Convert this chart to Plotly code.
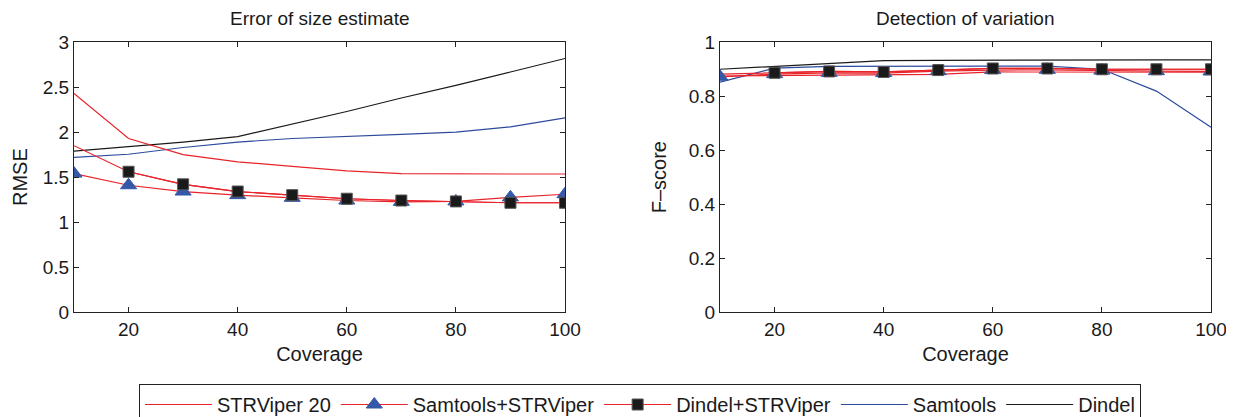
import plotly.graph_objects as go

coverage = [10, 20, 30, 40, 50, 60, 70, 80, 90, 100]

# RMSE (Error of size estimate)
rmse_strviper20 = [2.43, 1.93, 1.75, 1.67, 1.62, 1.57, 1.54, 1.535, 1.535, 1.535]
rmse_sam_strviper = [1.54, 1.41, 1.34, 1.30, 1.27, 1.24, 1.225, 1.23, 1.275, 1.31]
rmse_din_strviper = [1.85, 1.56, 1.42, 1.34, 1.30, 1.26, 1.24, 1.23, 1.215, 1.215]
rmse_samtools = [1.72, 1.755, 1.83, 1.89, 1.93, 1.95, 1.975, 2.0, 2.06, 2.16]
rmse_dindel = [1.79, 1.84, 1.89, 1.95, 2.09, 2.23, 2.38, 2.52, 2.67, 2.82]

# F-score (Detection of variation)
f_strviper20 = [0.875, 0.876, 0.878, 0.879, 0.881, 0.890, 0.890, 0.889, 0.889, 0.889]
f_sam_strviper = [0.872, 0.882, 0.887, 0.886, 0.893, 0.897, 0.898, 0.895, 0.893, 0.892]
f_din_strviper = [0.882, 0.887, 0.892, 0.890, 0.897, 0.903, 0.903, 0.900, 0.900, 0.900]
f_samtools = [0.852, 0.904, 0.911, 0.912, 0.912, 0.912, 0.912, 0.900, 0.819, 0.685]
f_dindel = [0.900, 0.910, 0.920, 0.932, 0.933, 0.934, 0.934, 0.934, 0.935, 0.935]

x_ticks = [20, 40, 60, 80, 100]
rmse_ticks = [0, 0.5, 1, 1.5, 2, 2.5, 3]
rmse_labels = ["0", "0.5", "1", "1.5", "2", "2.5", "3"]
f_ticks = [0, 0.2, 0.4, 0.6, 0.8, 1]
f_labels = ["0", "0.2", "0.4", "0.6", "0.8", "1"]

RED = "#e8232a"
BLUE = "#2d4a9e"
TRI = "#3558a8"
BLACK = "#1a1a1a"
FONT = "Liberation Sans, Arial, Helvetica, sans-serif"

fig = go.Figure()

panels = [
    ("x", "y", rmse_strviper20, rmse_sam_strviper, rmse_din_strviper, rmse_samtools, rmse_dindel, True),
    ("x2", "y2", f_strviper20, f_sam_strviper, f_din_strviper, f_samtools, f_dindel, False),
]

for xa, ya, s20, sams, dins, sam, din, leg in panels:
    fig.add_trace(go.Scatter(x=coverage, y=din, mode="lines", name="Dindel",
                             line=dict(color=BLACK, width=1.2), xaxis=xa, yaxis=ya,
                             showlegend=False, legendrank=5))
    fig.add_trace(go.Scatter(x=coverage, y=sam, mode="lines", name="Samtools",
                             line=dict(color=BLUE, width=1.2), xaxis=xa, yaxis=ya,
                             showlegend=False, legendrank=4))
    fig.add_trace(go.Scatter(x=coverage, y=s20, mode="lines", name="STRViper 20",
                             line=dict(color=RED, width=1.2), xaxis=xa, yaxis=ya,
                             showlegend=leg, legendrank=1))
    fig.add_trace(go.Scatter(x=coverage, y=dins, mode="lines", name="Dindel+STRViper",
                             line=dict(color=RED, width=1.2), xaxis=xa, yaxis=ya,
                             showlegend=False))
    fig.add_trace(go.Scatter(x=coverage, y=sams, mode="lines+markers", name="Samtools+STRViper",
                             line=dict(color=RED, width=1.2),
                             marker=dict(symbol="triangle-up", size=14, color=TRI,
                                         line=dict(color=TRI, width=1)),
                             xaxis=xa, yaxis=ya, showlegend=leg, legendrank=2))
    fig.add_trace(go.Scatter(x=coverage[1:], y=dins[1:], mode="lines+markers", name="Dindel+STRViper",
                             line=dict(color=RED, width=1.2),
                             marker=dict(symbol="square", size=11, color=BLACK,
                                         line=dict(color="#555555", width=1)),
                             xaxis=xa, yaxis=ya, showlegend=leg, legendrank=3))
    if leg:
        fig.add_trace(go.Scatter(x=[None], y=[None], mode="lines", name="Samtools",
                                 line=dict(color=BLUE, width=1.2), xaxis=xa, yaxis=ya,
                                 legendrank=4))
        fig.add_trace(go.Scatter(x=[None], y=[None], mode="lines", name="Dindel",
                                 line=dict(color=BLACK, width=1.2), xaxis=xa, yaxis=ya,
                                 legendrank=5))

# the page body has an 8px margin: lay the figure out in page pixels minus 8
OFF = 8
W, H = 1234 - OFF, 417 - OFF


def px_x(p):
    return (p - OFF) / W


def px_y(p):
    return 1 - (p - OFF) / H


axis_common = dict(showline=True, linecolor="#222222", linewidth=1, mirror="ticks",
                   ticks="inside", ticklen=5, tickcolor="#222222", showgrid=False,
                   zeroline=False, automargin=False,
                   tickfont=dict(family=FONT, size=19, color="#1a1a1a"))

fig.update_layout(
    width=W, height=H,
    margin=dict(l=0, r=0, t=0, b=0, autoexpand=False),
    paper_bgcolor="white", plot_bgcolor="white",
    font=dict(family=FONT, color="#1a1a1a"),
    xaxis=dict(domain=[px_x(74), px_x(565)], range=[10, 100], tickvals=x_ticks,
               anchor="y", title=dict(text="Coverage", standoff=8,
                                      font=dict(size=20)), **axis_common),
    yaxis=dict(domain=[px_y(312), px_y(42.3)], range=[0, 3], tickvals=rmse_ticks,
               ticktext=rmse_labels, anchor="x",
               title=dict(text="RMSE", standoff=9, font=dict(size=20)), **axis_common),
    xaxis2=dict(domain=[px_x(720), px_x(1211)], range=[10, 100], tickvals=x_ticks,
                anchor="y2", title=dict(text="Coverage", standoff=8,
                                        font=dict(size=20)), **axis_common),
    yaxis2=dict(domain=[px_y(312), px_y(42.3)], range=[0, 1], tickvals=f_ticks,
                ticktext=f_labels, anchor="x2",
                title=dict(text="F\u2013score", standoff=16, font=dict(size=20)),
                **axis_common),
    legend=dict(orientation="h", x=px_x(139), y=px_y(384), xanchor="left", yanchor="top",
                bordercolor="#222222", borderwidth=1, bgcolor="white",
                font=dict(family=FONT, size=20, color="#1a1a1a"),
                itemwidth=67, tracegroupgap=0),
    annotations=[
        dict(text="Error of size estimate", x=px_x((74 + 565) / 2), y=px_y(18),
             xref="paper", yref="paper", showarrow=False, xanchor="center", yanchor="middle",
             font=dict(family=FONT, size=19, color="#1a1a1a")),
        dict(text="Detection of variation", x=px_x((720 + 1211) / 2), y=px_y(18),
             xref="paper", yref="paper", showarrow=False, xanchor="center", yanchor="middle",
             font=dict(family=FONT, size=19, color="#1a1a1a")),
    ],
)

fig.write_html("out.html")
